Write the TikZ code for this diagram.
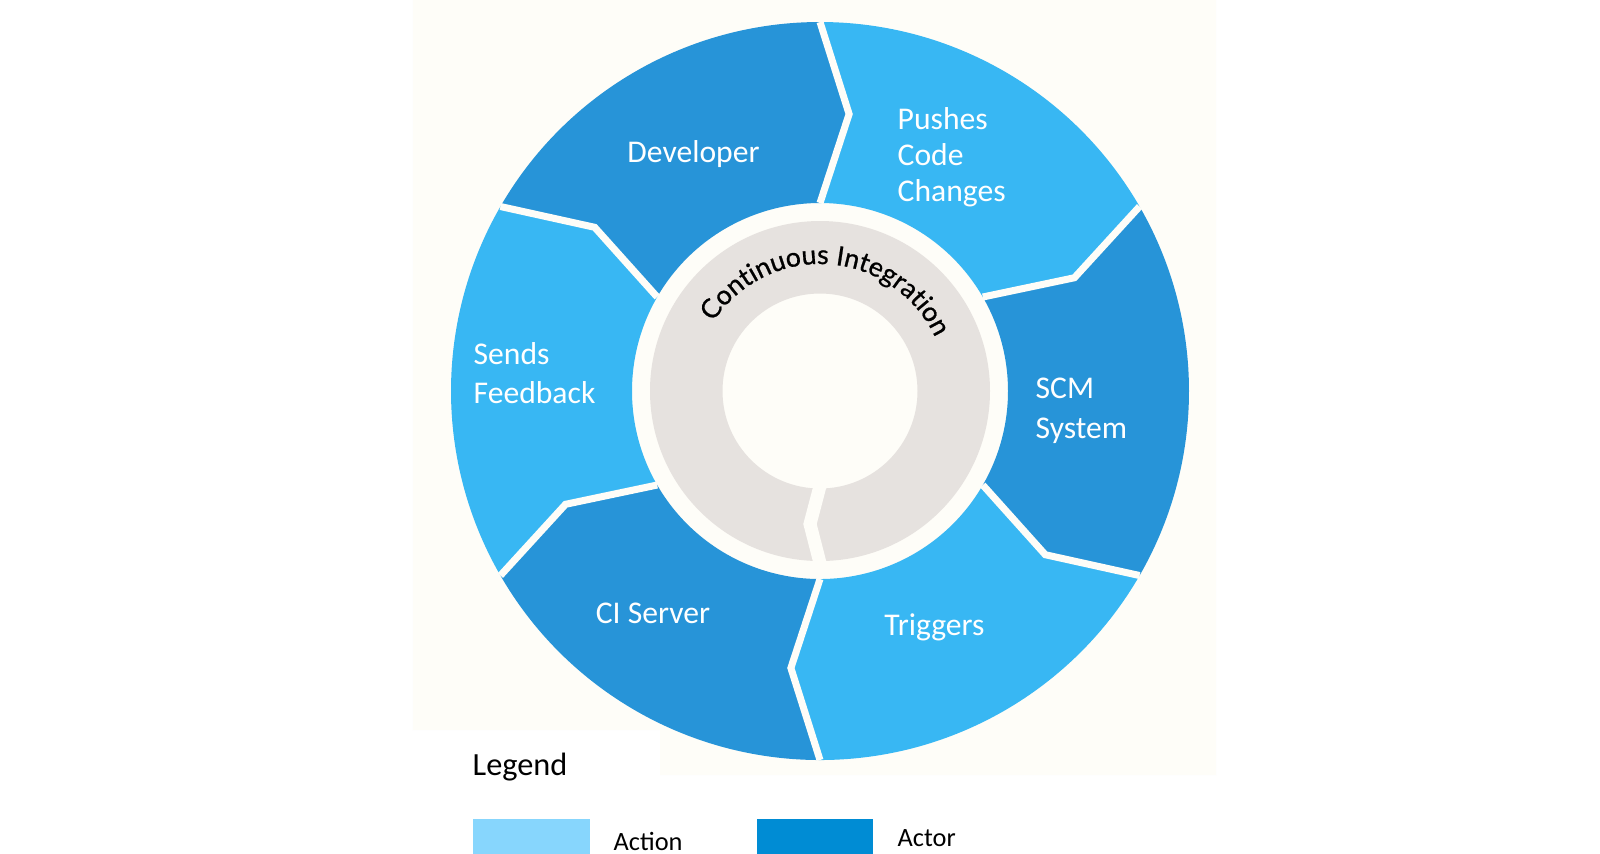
\documentclass[tikz,border=0pt]{standalone}
\usepackage{fontspec}
\setmainfont{Carlito}
\newfontfamily\ringfont[FakeBold=0.8]{Lato}
\usetikzlibrary{positioning,decorations.text}
\definecolor{actor}{RGB}{39,148,216}
\definecolor{action}{RGB}{56,183,243}
\definecolor{actorkey}{RGB}{0,140,212}
\definecolor{actionkey}{RGB}{135,214,253}
\definecolor{ringgray}{RGB}{230,226,223}
\definecolor{paper}{RGB}{254,253,248}

\begin{document}
\begin{tikzpicture}[
  lbl/.style={text=white,font=\fontsize{9}{10.2}\selectfont,align=left,inner sep=0pt},
  key/.style={font=\fontsize{7.5}{9}\selectfont,inner sep=0pt,anchor=base west}]
\useasboundingbox (-8.2,-4.62) rectangle (7.8,3.91);
\fill[white] (-8.2,-4.62) rectangle (7.8,3.91);
\fill[paper] (-4.07,3.91) -- (3.96,3.91) -- (3.96,-3.84) -- (-1.6,-3.84) -- (-1.6,-3.39) -- (-4.07,-3.39) -- cycle;

% segments of the cycle
\def\R{3.69} \def\r{1.88} \def\k{2.785}
\foreach \a/\c in {150/actor,90/action,30/actor,-30/action,-90/actor,-150/action}
  \fill[\c] (\a:\R) arc[start angle=\a,end angle=\a-60,radius=\R] -- (\a-66:\k) -- (\a-60:\r)
    arc[start angle=\a-60,end angle=\a,radius=\r] -- (\a-6:\k) -- cycle;
\foreach \a in {150,90,30,-30,-90,-150}
  \draw[paper,line width=2pt] (\a:\R) -- (\a-6:\k) -- (\a:\r);

% inner ring
\fill[ringgray,even odd rule] (0,0) circle (1.70) (0,0) circle (0.975);
\draw[paper,line width=0.13cm] (-90:0.95) -- (-94.3:1.334) -- (-90:1.72);
\path[decorate,decoration={text along path,text align=center,
  text={|\ringfont\fontsize{7.6}{9}\selectfont|Continuous Integration}}]
  (176:1.27) arc[start angle=176,end angle=-4,radius=1.27];

% labels
\node[lbl,anchor=base] (dev) at (-1.265,2.29) {Developer};
\node[lbl,anchor=west] (push) at (0.77,2.34) {Pushes\\Code\\Changes};
\node[lbl,anchor=west,font=\fontsize{9}{11.3}\selectfont] (scm) at (2.15,-0.20) {SCM\\System};
\node[lbl,anchor=base] (trig) at (1.145,-2.44) {Triggers};
\node[lbl,anchor=base] (ci) at (-1.67,-2.32) {CI Server};
\node[lbl,anchor=west,font=\fontsize{9}{11.3}\selectfont] (feed) at (-3.47,0.18) {Sends\\Feedback};

% legend
\node[anchor=base west,inner sep=0pt,font=\fontsize{9.2}{11}\selectfont] (legend) at (-3.48,-3.84) {Legend};
\node[fill=actionkey,inner sep=0pt,minimum width=1.17cm,minimum height=0.42cm,anchor=north west] (actionbox) at (-3.48,-4.27) {};
\node[key] (action) at (-2.07,-4.59) {Action};
\node[fill=actorkey,inner sep=0pt,minimum width=1.16cm,minimum height=0.42cm,anchor=north west] (actorbox) at (-0.64,-4.27) {};
\node[key] (actor) at (0.77,-4.55) {Actor};
\end{tikzpicture}
\end{document}
